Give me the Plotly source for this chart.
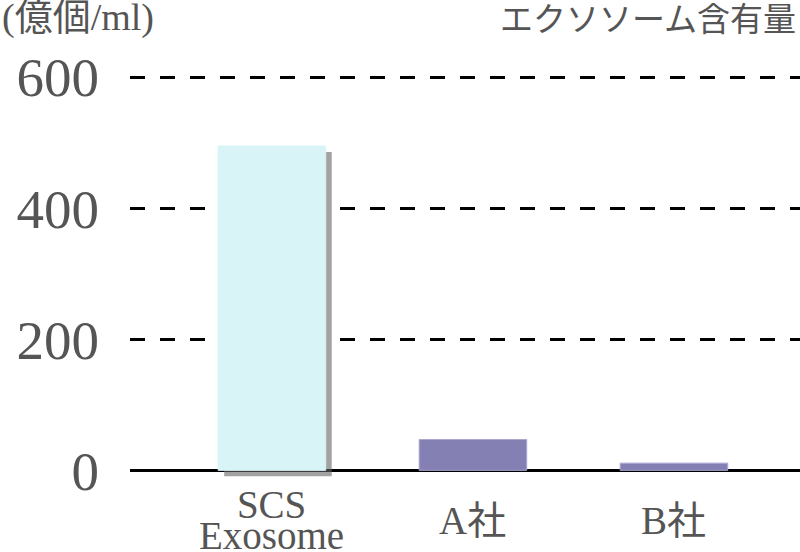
import plotly.graph_objects as go

categories = ["SCS<br>Exosome", "A社", "B社"]
values = [495, 47, 11]
bar_colors = ["#D8F4F6", "#8480B3", "#8480B3"]
edge_colors = ["#D8F4F6", "#A9A6D2", "#A9A6D2"]
y_ticks = [0, 200, 400, 600]
unit_label = "(億個/ml)"
chart_title = "エクソソーム含有量"

FONT = "Liberation Serif, Noto Sans CJK JP, serif"
GREY = "#555555"
BAR_W = 0.535

fig = go.Figure()

# soft drop shadow for the highlighted bar
fig.add_trace(go.Bar(
    x=categories[:1], y=values[:1], base=[-9], width=BAR_W,
    offset=-BAR_W / 2 + 0.03,
    marker=dict(color="rgba(100,100,100,0.6)", line=dict(width=0)),
    hoverinfo="skip", showlegend=False,
))
fig.add_trace(go.Bar(
    x=categories, y=values, width=BAR_W,
    marker=dict(color=bar_colors, line=dict(color=edge_colors, width=1)),
    showlegend=False,
))

for c in categories:
    txt = "<br>".join(f"<span style='font-size:39px'>{p}</span>" for p in c.split("<br>"))
    fig.add_annotation(x=c, xref="x", y=0, yref="paper", yanchor="middle",
                       yshift=-30, text=txt, showarrow=False,
                       font=dict(family=FONT, size=24, color=GREY))

fig.add_annotation(x=-130 / 670, xref="paper", xanchor="left", y=1.077, yref="paper",
                   yanchor="middle", text=unit_label, showarrow=False,
                   font=dict(family=FONT, size=38, color=GREY))
fig.add_annotation(x=668 / 670, xref="paper", xanchor="right", y=1.07, yref="paper",
                   yanchor="middle", text=chart_title, showarrow=False,
                   font=dict(family=FONT, size=33, color=GREY))

fig.update_layout(
    width=800, height=552,
    margin=dict(l=130, r=0, t=51, b=62, autoexpand=False),
    barmode="overlay",
    plot_bgcolor="white", paper_bgcolor="white",
    xaxis=dict(range=[-0.706, 2.627], showticklabels=False, showgrid=False,
               showline=False, ticks="", zeroline=False, automargin=False),
    yaxis=dict(range=[-30, 640], tickvals=y_ticks, ticks="", automargin=False,
               tickfont=dict(family=FONT, size=55, color=GREY),
               ticklabelstandoff=30,
               showgrid=True, gridcolor="black", gridwidth=3, griddash="15px,15px",
               zeroline=True, zerolinecolor="black", zerolinewidth=3,
               showline=False),
)

fig.write_html("out.html", config={"displayModeBar": False},
               post_script="document.body.style.margin='0';document.body.style.overflow='hidden';")
